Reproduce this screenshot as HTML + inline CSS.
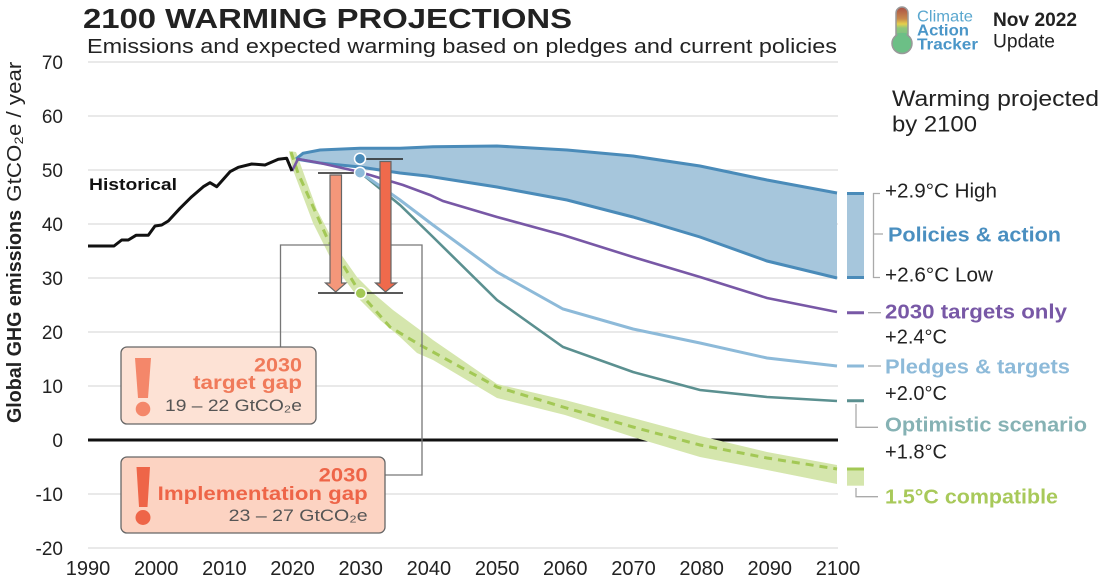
<!DOCTYPE html>
<html><head><meta charset="utf-8"><style>
html,body{margin:0;padding:0;background:#fff;}
svg{display:block;font-family:"Liberation Sans",sans-serif;}
</style></head><body>
<svg width="1110" height="582" viewBox="0 0 1110 582" xmlns="http://www.w3.org/2000/svg">
<defs>
<linearGradient id="th" x1="0" y1="0" x2="0" y2="1">
<stop offset="0" stop-color="#a94f45"/><stop offset="0.35" stop-color="#c98a4c"/><stop offset="0.5" stop-color="#e6d04c"/><stop offset="0.62" stop-color="#8fc77a"/><stop offset="1" stop-color="#6cbf86"/>
</linearGradient>
</defs>
<rect width="1110" height="582" fill="#fff"/>
<!-- Title -->
<text x="83" y="28" font-size="28" font-weight="bold" fill="#222" textLength="489" lengthAdjust="spacingAndGlyphs">2100 WARMING PROJECTIONS</text>
<text x="87" y="53" font-size="20" fill="#222" textLength="750" lengthAdjust="spacingAndGlyphs">Emissions and expected warming based on pledges and current policies</text>
<!-- Logo -->
<rect x="896" y="7" width="12" height="34" rx="6" fill="url(#th)" stroke="#999" stroke-width="1.5"/>
<circle cx="902" cy="43.5" r="10" fill="#6cbf86" stroke="#999" stroke-width="1.5"/>
<rect x="897.5" y="33" width="9" height="10" fill="#6cbf86"/>
<text x="917" y="21.7" font-size="16" fill="#5aa7cf" textLength="56" lengthAdjust="spacingAndGlyphs">Climate</text>
<text x="917" y="35.7" font-size="16" font-weight="bold" fill="#4a96c8" textLength="52" lengthAdjust="spacingAndGlyphs">Action</text>
<text x="917" y="49.3" font-size="16" font-weight="bold" fill="#4a96c8" textLength="61" lengthAdjust="spacingAndGlyphs">Tracker</text>
<text x="993" y="26" font-size="19" font-weight="bold" fill="#222" textLength="84" lengthAdjust="spacingAndGlyphs">Nov 2022</text>
<text x="993" y="47.7" font-size="19" fill="#222" textLength="62" lengthAdjust="spacingAndGlyphs">Update</text>
<text x="892" y="106" font-size="22" fill="#222" textLength="207" lengthAdjust="spacingAndGlyphs">Warming projected</text>
<text x="892" y="131.5" font-size="22" fill="#222" textLength="85" lengthAdjust="spacingAndGlyphs">by 2100</text>
<!-- Y axis title -->
<text transform="translate(21,423) rotate(-90)" font-size="20" font-weight="bold" fill="#222" textLength="213" lengthAdjust="spacingAndGlyphs">Global GHG emissions</text>
<text transform="translate(21,201.7) rotate(-90)" font-size="20" fill="#222" textLength="140" lengthAdjust="spacingAndGlyphs">GtCO₂e / year</text>
<!-- Grid -->
<g stroke="#dcdcdc" stroke-width="1.2">
<line x1="88" x2="838" y1="62" y2="62"/><line x1="88" x2="838" y1="116" y2="116"/><line x1="88" x2="838" y1="170" y2="170"/><line x1="88" x2="838" y1="224" y2="224"/><line x1="88" x2="838" y1="278" y2="278"/><line x1="88" x2="838" y1="332" y2="332"/><line x1="88" x2="838" y1="386" y2="386"/><line x1="88" x2="838" y1="494" y2="494"/><line x1="88" x2="838" y1="548" y2="548"/>
</g>
<g font-size="19" fill="#222" text-anchor="end">
<text x="63" y="69">70</text><text x="63" y="123">60</text><text x="63" y="177">50</text><text x="63" y="231">40</text><text x="63" y="285">30</text><text x="63" y="339">20</text><text x="63" y="393">10</text><text x="63" y="447">0</text><text x="63" y="501">-10</text><text x="63" y="555">-20</text>
</g>
<g font-size="20" fill="#222" text-anchor="middle">
<text x="88" y="575">1990</text><text x="156.2" y="575">2000</text><text x="224.4" y="575">2010</text><text x="292.5" y="575">2020</text><text x="360.7" y="575">2030</text><text x="428.9" y="575">2040</text><text x="497.1" y="575">2050</text><text x="565.3" y="575">2060</text><text x="633.5" y="575">2070</text><text x="701.6" y="575">2080</text><text x="769.8" y="575">2090</text><text x="838" y="575">2100</text>
</g>
<!-- zero line -->
<line x1="88" x2="838" y1="440" y2="440" stroke="#111" stroke-width="3"/>
<!-- green band -->
<polygon fill="#d5e6ad" points="289,151 296,152 317,210 338,250 357,277 373,293 393,310 420,330 433,340 497,384 565,400 633,418 700,436 767,452 837,465 837,484 767,470 700,457 633,437 565,415 497,398 433,360 417,353 400,337 380,320 360,300 345,280 330,257 313,223 293,170"/>
<polyline fill="none" stroke="#a3c855" stroke-width="3" stroke-dasharray="8,6" points="291,152 298,173 328,240 360,293 390,327 420,345 433,352 497,387 563,407 633,427 700,445 767,458 837,469"/>
<!-- blue band -->
<polygon fill="#a6c6dc" points="296,159 303,153.3 320,150 360,148.3 400,148.3 433,146.7 497,146 567,150 633,156 700,166 767,180 837,193 837,278 767,261 700,237 633,217 567,200 497,187 427,176 400,173 360,167 320,163"/>
<polyline fill="none" stroke="#4a8bb9" stroke-width="3" points="296,159 303,153.3 320,150 360,148.3 400,148.3 433,146.7 497,146 567,150 633,156 700,166 767,180 837,193"/>
<polyline fill="none" stroke="#4a8bb9" stroke-width="3" points="296,159 320,163 360,167 400,173 427,176 497,187 567,200 633,217 700,237 767,261 837,278"/>
<!-- teal -->
<polyline fill="none" stroke="#5b9090" stroke-width="2.6" points="360,173 367,178 400,205 433,237 497,300 563,347 633,372 700,390 767,397 837,401"/>
<!-- light blue -->
<polyline fill="none" stroke="#8dbad9" stroke-width="3" points="360,173 367,177 400,200 433,225 497,272 563,309 633,329 700,343 767,358 837,366"/>
<!-- purple -->
<polyline fill="none" stroke="#7858a6" stroke-width="2.6" points="292,171 298,159 320,163 360,172 403,185 430,195 443,201 497,217 563,235 633,257 700,277 767,298 837,312"/>
<!-- historical -->
<polyline fill="none" stroke="#111" stroke-width="3" stroke-linejoin="round" points="88,246 114,246 121.7,240 128.3,240 136,235.3 148.3,235.3 155,226 161.7,225 168.3,221 180,208.3 191.7,196.7 203.3,186.7 210,182.7 216.7,186.7 230,171.7 238.3,167.3 251.7,164 265,165 278.3,159.3 286.7,158.3 292,171"/>
<text x="89" y="190" font-size="17" font-weight="bold" fill="#111" textLength="88" lengthAdjust="spacingAndGlyphs">Historical</text>
<!-- connectors -->
<g stroke="#777" stroke-width="1.3" fill="none">
<path d="M280.5,347 V245 H330"/>
<path d="M391,245 H422 V475 H385"/>
</g>
<!-- short black lines -->
<g stroke="#222" stroke-width="1.5">
<line x1="318" x2="356" y1="173" y2="173"/>
<line x1="366" x2="403" y1="159" y2="159"/>
<line x1="318" x2="403" y1="293" y2="293"/>
</g>
<!-- arrows -->
<path d="M330,175 H341.5 V283 H346 L335.7,292 L325.5,283 H330 Z" fill="#f4977a" stroke="#666" stroke-width="1.2"/>
<path d="M380,161.5 H391 V283 H396.5 L385.5,292 L375.5,283 H380 Z" fill="#ef6a4c" stroke="#666" stroke-width="1.2"/>
<!-- circles -->
<circle cx="360" cy="158.7" r="5.5" fill="#4a8bb9" stroke="#fff" stroke-width="1.5"/>
<circle cx="360" cy="172.7" r="5.5" fill="#8dbad9" stroke="#fff" stroke-width="1.5"/>
<circle cx="360.7" cy="293.3" r="5.5" fill="#a3c855" stroke="#fff" stroke-width="1.5"/>
<!-- Box 1 -->
<rect x="121" y="347" width="195" height="77" rx="6" fill="#fde2d5" stroke="#666" stroke-width="1.3"/>
<polygon points="135,358 151,358 148,398 138,398" fill="#f4876a"/>
<circle cx="143" cy="409" r="7.3" fill="#f4876a"/>
<text x="302" y="371.7" font-size="19" font-weight="bold" fill="#f07a5a" text-anchor="end" textLength="48" lengthAdjust="spacingAndGlyphs">2030</text>
<text x="302" y="389" font-size="19" font-weight="bold" fill="#f07a5a" text-anchor="end" textLength="109" lengthAdjust="spacingAndGlyphs">target gap</text>
<text x="302" y="411" font-size="17" fill="#555" text-anchor="end" textLength="137" lengthAdjust="spacingAndGlyphs">19 – 22  GtCO₂e</text>
<!-- Box 2 -->
<rect x="121" y="457" width="264" height="76" rx="6" fill="#fcd3c2" stroke="#666" stroke-width="1.3"/>
<polygon points="136.5,467 150,467 147.5,507 139,507" fill="#ee6548"/>
<circle cx="143" cy="517.5" r="7.5" fill="#ee6548"/>
<text x="367.7" y="481.7" font-size="19" font-weight="bold" fill="#ee6548" text-anchor="end" textLength="49" lengthAdjust="spacingAndGlyphs">2030</text>
<text x="367.7" y="500" font-size="19" font-weight="bold" fill="#ee6548" text-anchor="end" textLength="210" lengthAdjust="spacingAndGlyphs">Implementation gap</text>
<text x="367.7" y="521" font-size="17" fill="#555" text-anchor="end" textLength="139" lengthAdjust="spacingAndGlyphs">23 – 27  GtCO₂e</text>
<!-- Right legend markers -->
<rect x="847" y="193" width="17" height="85" fill="#a6c6dc"/>
<line x1="847" x2="864" y1="193.5" y2="193.5" stroke="#4a8bb9" stroke-width="3"/>
<line x1="847" x2="864" y1="277.5" y2="277.5" stroke="#4a8bb9" stroke-width="3"/>
<g stroke="#aaa" stroke-width="1.3" fill="none">
<path d="M880,193.5 H873.5 V277.5 H880"/>
<line x1="873.5" x2="883" y1="234" y2="234"/>
<line x1="868" x2="881" y1="312.7" y2="312.7"/>
<line x1="868" x2="881" y1="366" y2="366"/>
<path d="M856,404 V427.3 H878"/>
<path d="M856,488 V496.7 H878"/>
</g>
<line x1="847" x2="864" y1="312.7" y2="312.7" stroke="#7858a6" stroke-width="3"/>
<line x1="847" x2="864" y1="366" y2="366" stroke="#8dbad9" stroke-width="3"/>
<line x1="847" x2="864" y1="400.7" y2="400.7" stroke="#5b9090" stroke-width="3"/>
<rect x="847" y="467.7" width="17" height="18" fill="#d5e6ad"/>
<line x1="847" x2="864" y1="469" y2="469" stroke="#a3c855" stroke-width="3"/>
<!-- Right labels -->
<text x="885" y="197.3" font-size="20" fill="#222" textLength="112" lengthAdjust="spacingAndGlyphs">+2.9°C High</text>
<text x="888" y="241.7" font-size="20" font-weight="bold" fill="#4a8fc0" textLength="173" lengthAdjust="spacingAndGlyphs">Policies &amp; action</text>
<text x="885" y="281.7" font-size="20" fill="#222" textLength="108" lengthAdjust="spacingAndGlyphs">+2.6°C Low</text>
<text x="885" y="318.3" font-size="20" font-weight="bold" fill="#7858a6" textLength="182" lengthAdjust="spacingAndGlyphs">2030 targets only</text>
<text x="885" y="343.5" font-size="20" fill="#222" textLength="62" lengthAdjust="spacingAndGlyphs">+2.4°C</text>
<text x="885" y="373.3" font-size="20" font-weight="bold" fill="#8dbad9" textLength="185" lengthAdjust="spacingAndGlyphs">Pledges &amp; targets</text>
<text x="885" y="400" font-size="20" fill="#222" textLength="62" lengthAdjust="spacingAndGlyphs">+2.0°C</text>
<text x="885" y="431.7" font-size="20" font-weight="bold" fill="#86b2b4" textLength="202" lengthAdjust="spacingAndGlyphs">Optimistic scenario</text>
<text x="885" y="458.3" font-size="20" fill="#222" textLength="62" lengthAdjust="spacingAndGlyphs">+1.8°C</text>
<text x="885" y="503.3" font-size="20" font-weight="bold" fill="#a8c95a" textLength="173" lengthAdjust="spacingAndGlyphs">1.5°C compatible</text>
</svg>
</body></html>
